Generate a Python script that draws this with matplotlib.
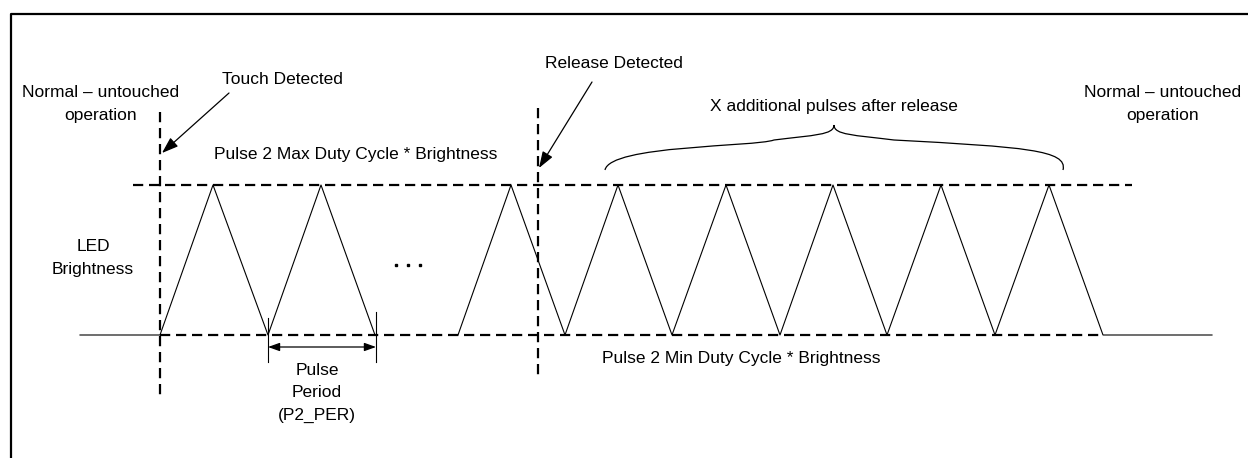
import matplotlib.pyplot as plt
from matplotlib.path import Path
from matplotlib.patches import PathPatch

plt.rcParams['font.family'] = ['Liberation Sans', 'DejaVu Sans']

# LED brightness waveform, levels 0 = min duty, 1 = max duty
burst1_t = [80, 160, 213, 268, 321, 375]
burst1_level = [0, 0, 1, 0, 1, 0]
burst2_t = [458, 511, 565, 618, 672, 726, 780, 833, 887, 941, 995, 1049, 1103, 1212]
burst2_level = [0, 1, 0, 1, 0, 1, 0, 1, 0, 1, 0, 1, 0, 0]

touch_t = 160
release_t = 538
period_start, period_end = 268, 376
brace_start, brace_end = 605, 1063

y_max, y_min = 185, 335


def lev(vals):
    return [y_min - v * (y_min - y_max) for v in vals]


fig = plt.figure(figsize=(12.48, 4.58), dpi=100)
ax = fig.add_axes([0, 0, 1, 1])
ax.set_xlim(0, 1248)
ax.set_ylim(458, 0)
ax.axis('off')

# outer frame (cut at right/bottom like the source)
ax.plot([11, 11, 1260], [470, 14, 14], color='black', lw=1.6)

dash = dict(color='black', lw=1.6, linestyle=(0, (4.6, 2.6)))
ax.plot([133, 1132], [y_max, y_max], **dash)
ax.plot([touch_t, 1103], [y_min, y_min], **dash)
ax.plot([touch_t, touch_t], [112, 398], **dash)
ax.plot([release_t, release_t], [108, 378], **dash)

wave = dict(color='black', lw=0.8)
ax.plot(burst1_t, lev(burst1_level), **wave)
ax.plot(burst2_t, lev(burst2_level), **wave)

# continuation dots
ax.plot([396, 408, 420], [265, 265, 265], 's', color='black', ms=2.0)

fs = 12.5
ls = 1.6
ax.text(101, 104, 'Normal \u2013 untouched\noperation', ha='center', va='center',
        fontsize=fs, linespacing=ls)
ax.text(1163, 104, 'Normal \u2013 untouched\noperation', ha='center', va='center',
        fontsize=fs, linespacing=ls)
ax.text(93, 258, 'LED\nBrightness', ha='center', va='center', fontsize=fs,
        linespacing=ls)
ax.text(282, 80, 'Touch Detected', ha='center', va='center', fontsize=fs)
ax.text(614, 64, 'Release Detected', ha='center', va='center', fontsize=fs)
ax.text(356, 155, 'Pulse 2 Max Duty Cycle * Brightness', ha='center', va='center',
        fontsize=fs)
ax.text(741, 359, 'Pulse 2 Min Duty Cycle * Brightness', ha='center', va='center',
        fontsize=fs)
ax.text(834, 107, 'X additional pulses after release', ha='center', va='center',
        fontsize=fs)
ax.text(317, 393, 'Pulse\nPeriod\n(P2_PER)', ha='center', va='center', fontsize=fs,
        linespacing=ls)

arr = dict(arrowstyle='-|>,head_length=1.0,head_width=0.35', color='black', lw=0.9,
           shrinkA=0, shrinkB=0)
ax.annotate('', xy=(162, 153), xytext=(229, 93), arrowprops=arr)
ax.annotate('', xy=(539, 168), xytext=(592, 82), arrowprops=arr)

# pulse period marker
ax.plot([period_start, period_start], [318, 362], color='black', lw=0.8)
ax.plot([period_end, period_end], [312, 362], color='black', lw=0.8)
ax.annotate('', xy=(period_start, 347), xytext=(period_end, 347),
            arrowprops=dict(arrowstyle='<|-|>,head_length=0.7,head_width=0.25',
                            color='black', lw=0.9, shrinkA=0, shrinkB=0))

# curly brace over the extra pulses
mid = (brace_start + brace_end) / 2
verts = [(brace_start, 170), (brace_start + 5, 145), (mid - 80, 147), (mid - 60, 140),
         (mid - 20, 135), (mid, 135), (mid, 125),
         (mid, 135), (mid + 20, 135), (mid + 60, 140),
         (mid + 190, 147), (brace_end + 5, 150), (brace_end, 170)]
codes = [Path.MOVETO, Path.CURVE4, Path.CURVE4, Path.CURVE4,
         Path.CURVE4, Path.CURVE4, Path.CURVE4,
         Path.CURVE4, Path.CURVE4, Path.CURVE4,
         Path.CURVE4, Path.CURVE4, Path.CURVE4]
ax.add_patch(PathPatch(Path(verts, codes), fill=False, color='black', lw=0.9))

fig.savefig('out.png', dpi=100)
